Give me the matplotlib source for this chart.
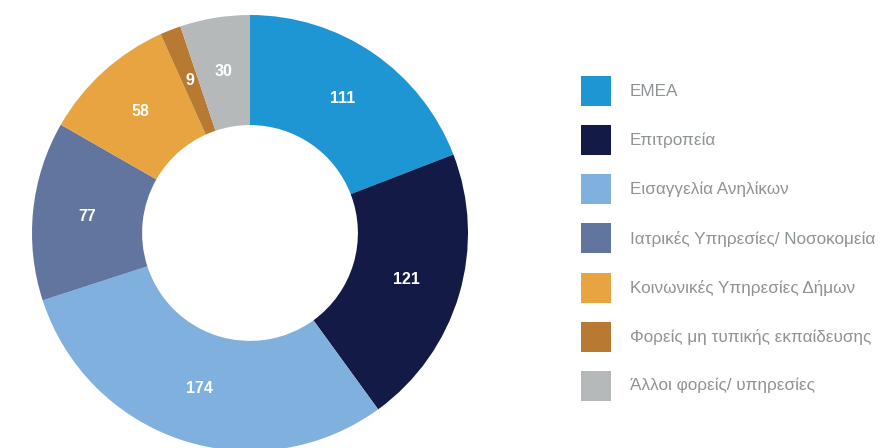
import matplotlib
matplotlib.use("Agg")
import matplotlib.pyplot as plt
from matplotlib.patches import Rectangle
import numpy as np

categories = ["ΕΜΕΑ", "Επιτροπεία", "Εισαγγελία Ανηλίκων",
              "Ιατρικές Υπηρεσίες/ Νοσοκομεία", "Κοινωνικές Υπηρεσίες Δήμων",
              "Φορείς μη τυπικής εκπαίδευσης", "Άλλοι φορείς/ υπηρεσίες"]
values = [111, 121, 174, 77, 58, 9, 30]
colors = ["#1E96D3", "#131A45", "#80B0DE", "#62759F", "#E8A440", "#B87A33", "#B5B9BA"]

plt.rcParams['font.family'] = ['Liberation Sans', 'DejaVu Sans']

W, H = 896, 448
fig = plt.figure(figsize=(W / 100, H / 100), dpi=100)

cx, cy, R = 250, 233, 218
ax = fig.add_axes([(cx - R) / W, (H - cy - R) / H, 2 * R / W, 2 * R / H])
wedges, _ = ax.pie(values, colors=colors, startangle=90, counterclock=False,
                   radius=1.0, wedgeprops=dict(width=0.505, linewidth=0))
total = sum(values)
cum = 0
for v in values:
    mid = (cum + v / 2) / total * 2 * np.pi
    r = 0.75
    ax.text(r * np.sin(mid), r * np.cos(mid), str(v), ha="center", va="center",
            color="white", fontsize=11.5, fontweight="bold")
    cum += v
ax.set_xlim(-1, 1)
ax.set_ylim(-1, 1)
ax.set_aspect("equal")
ax.axis("off")

y0, dy = 91.5, 49.0
for i, (lab, col) in enumerate(zip(categories, colors)):
    yc = y0 + i * dy
    fig.add_artist(Rectangle((581 / W, (H - yc - 15) / H), 30 / W, 30 / H,
                             transform=fig.transFigure, facecolor=col, edgecolor="none"))
    fig.text(630 / W, (H - yc) / H, lab, ha="left", va="center",
             color="#8E9396", fontsize=12.3)

fig.savefig("out.png", dpi=100)
